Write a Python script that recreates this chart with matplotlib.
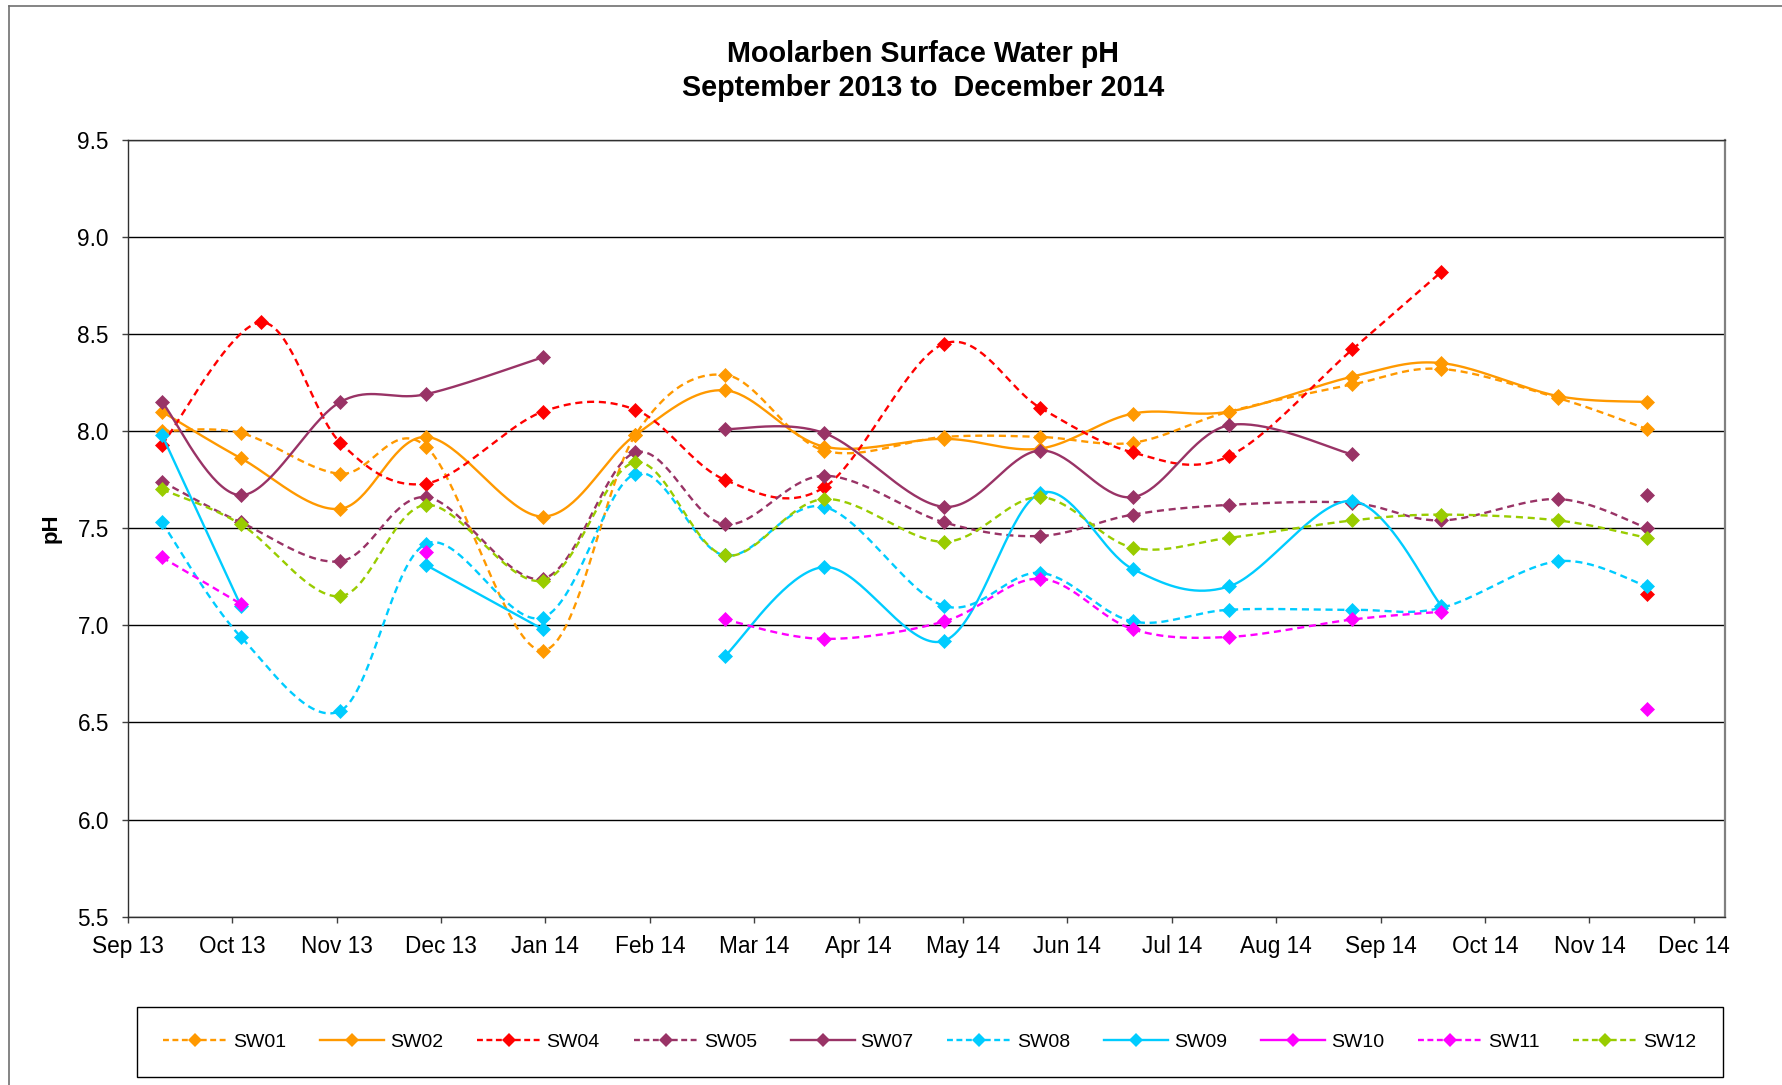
"""
Moolarben surface water pH, Sep 2013 - Dec 2014.
Smoothed lines (Excel style) with diamond markers for each monitoring site.
"""

import numpy as np
import pandas as pd
import matplotlib
matplotlib.use("Agg")
import matplotlib.pyplot as plt
from matplotlib.lines import Line2D

plt.rcParams["font.family"] = ["Liberation Sans", "DejaVu Sans"]


# ─── Data ──────────────────────────────────────────────────────────────────────

sample_dates = ["2013-09-11", "2013-10-04", "2013-11-02", "2013-11-27", "2013-12-31",
                "2014-01-27", "2014-02-22", "2014-03-23", "2014-04-27", "2014-05-25",
                "2014-06-21", "2014-07-19", "2014-08-24", "2014-09-19", "2014-10-23",
                "2014-11-18"]
# SW04 was sampled a few days later in October
sw04_dates = ["2013-09-11", "2013-10-10", "2013-11-02", "2013-11-27", "2013-12-31",
              "2014-01-27", "2014-02-22", "2014-03-23", "2014-04-27", "2014-05-25",
              "2014-06-21", "2014-07-19", "2014-08-24", "2014-09-19", "2014-10-23",
              "2014-11-18"]

sw01 = [8.00, 7.99, 7.78, 7.92, 6.87, 7.98, 8.29, 7.90, 7.97, 7.97, 7.94, 8.10, 8.24, 8.32, 8.17, 8.01]
sw02 = [8.10, 7.86, 7.60, 7.97, 7.56, 7.98, 8.21, 7.92, 7.96, 7.91, 8.09, 8.10, 8.28, 8.35, 8.18, 8.15]
sw04 = [7.93, 8.56, 7.94, 7.73, 8.10, 8.11, 7.75, 7.71, 8.45, 8.12, 7.89, 7.87, 8.42, 8.82, None, 7.16]
sw05 = [7.74, 7.53, 7.33, 7.66, 7.24, 7.89, 7.52, 7.77, 7.53, 7.46, 7.57, 7.62, 7.63, 7.54, 7.65, 7.50]
sw07 = [8.15, 7.67, 8.15, 8.19, 8.38, None, 8.01, 7.99, 7.61, 7.90, 7.66, 8.03, 7.88, None, None, 7.67]
sw08 = [7.53, 6.94, 6.56, 7.42, 7.04, 7.78, 7.36, 7.61, 7.10, 7.27, 7.02, 7.08, 7.08, 7.09, 7.33, 7.20]
sw09 = [7.98, 7.10, None, 7.31, 6.98, None, 6.84, 7.30, 6.92, 7.68, 7.29, 7.20, 7.64, 7.10, None, None]
sw10 = [None, None, None, 7.38, None, None, None, None, None, None, None, None, None, None, None, 6.57]
sw11 = [7.35, 7.11, None, None, None, None, 7.03, 6.93, 7.02, 7.24, 6.98, 6.94, 7.03, 7.07, None, None]
sw12 = [7.70, 7.52, 7.15, 7.62, 7.23, 7.84, 7.36, 7.65, 7.43, 7.66, 7.40, 7.45, 7.54, 7.57, 7.54, 7.45]

month_labels = ["Sep 13", "Oct 13", "Nov 13", "Dec 13", "Jan 14", "Feb 14", "Mar 14", "Apr 14",
                "May 14", "Jun 14", "Jul 14", "Aug 14", "Sep 14", "Oct 14", "Nov 14", "Dec 14"]
y_ticks = [5.5, 6.0, 6.5, 7.0, 7.5, 8.0, 8.5, 9.0, 9.5]

# name, values, dates, colour, linestyle
SERIES = [
    ("SW01", sw01, sample_dates, "#FF9900", "--"),
    ("SW02", sw02, sample_dates, "#FF9900", "-"),
    ("SW04", sw04, sw04_dates,   "#FF0000", "--"),
    ("SW05", sw05, sample_dates, "#993366", "--"),
    ("SW07", sw07, sample_dates, "#993366", "-"),
    ("SW08", sw08, sample_dates, "#00CCFF", "--"),
    ("SW09", sw09, sample_dates, "#00CCFF", "-"),
    ("SW10", sw10, sample_dates, "#FF00FF", "-"),
    ("SW11", sw11, sample_dates, "#FF00FF", "--"),
    ("SW12", sw12, sample_dates, "#99CC00", "--"),
]

START = pd.Timestamp("2013-09-01")
MONTH = 30.44   # days between axis ticks


# ─── Helpers ───────────────────────────────────────────────────────────────────

def to_days(dates):
    return np.array([(pd.Timestamp(d) - START).days for d in dates], dtype=float)


def smooth_run(x, y, n=40):
    """Catmull-Rom style bezier through the points, like Excel's smoothed line."""
    if len(x) < 3:
        return x, y
    pts = np.column_stack([x, y])
    out = [pts[:1]]
    t = np.linspace(0, 1, n)[1:, None]
    for i in range(len(pts) - 1):
        p0 = pts[i - 1] if i > 0 else pts[i]
        p1, p2 = pts[i], pts[i + 1]
        p3 = pts[i + 2] if i + 2 < len(pts) else pts[i + 1]
        c1 = p1 + (p2 - p0) / 6
        c2 = p2 - (p3 - p1) / 6
        seg = ((1 - t) ** 3) * p1 + 3 * ((1 - t) ** 2) * t * c1 + 3 * (1 - t) * t ** 2 * c2 + t ** 3 * p2
        out.append(seg)
    curve = np.vstack(out)
    return curve[:, 0], curve[:, 1]


def split_runs(x, values):
    """Break the series wherever a value is missing."""
    runs, cur = [], []
    for xi, v in zip(x, values):
        if v is None:
            if cur:
                runs.append(cur)
            cur = []
        else:
            cur.append((xi, v))
    if cur:
        runs.append(cur)
    return runs


# ─── Plot ──────────────────────────────────────────────────────────────────────

def plot_chart(output_path):
    fig = plt.figure(figsize=(17.82, 10.85), dpi=100)
    ax = fig.add_axes([127.7 / 1782, 1 - 916.7 / 1085, (1724.6 - 127.7) / 1782, (916.7 - 139.7) / 1085])

    ax.set_ylim(5.5, 9.5)
    ax.set_xlim(0, 15.294 * MONTH)
    ax.set_yticks(y_ticks)
    ax.set_yticklabels([f"{v:.1f}" for v in y_ticks])
    ax.set_xticks([i * MONTH for i in range(len(month_labels))])
    ax.set_xticklabels(month_labels)
    ax.grid(axis="y", color="black", linewidth=1.0)
    ax.set_axisbelow(True)
    ax.tick_params(axis="both", labelsize=16.3, direction="out", length=4.5, width=1.0, color="#404040")
    ax.tick_params(axis="x", pad=9)
    ax.tick_params(axis="y", pad=9)

    for side in ["left", "bottom", "top"]:
        ax.spines[side].set_color("#303030")
        ax.spines[side].set_linewidth(1.0)
    ax.spines["right"].set_color("#808080")
    ax.spines["right"].set_linewidth(1.6)

    handles = []
    for name, vals, dates, color, ls in SERIES:
        x = to_days(dates)
        for run in split_runs(x, vals):
            rx = np.array([p[0] for p in run])
            ry = np.array([p[1] for p in run])
            if len(run) > 1:
                sx, sy = smooth_run(rx, ry)
                ax.plot(sx, sy, color=color, linestyle=ls, linewidth=1.7,
                        dashes=(3, 2) if ls == "--" else (None, None), clip_on=False)
            ax.plot(rx, ry, linestyle="none", marker="D", markersize=7.2,
                    markerfacecolor=color, markeredgecolor=color, markeredgewidth=0.5)
        h = Line2D([], [], color=color, linestyle=ls, linewidth=1.7, marker="D",
                   markersize=7, markeredgewidth=0)
        if ls == "--":
            h.set_dashes((2.5, 1.5))
        handles.append(h)

    leg = fig.legend(handles, [s[0] for s in SERIES], ncol=10, mode="expand",
                     loc="lower left",
                     bbox_to_anchor=(136.6 / 1782, 1 - 1077 / 1085, (1722.7 - 136.6) / 1782, 68 / 1085),
                     borderaxespad=0, fontsize=14, handlelength=3.3, handletextpad=0.3,
                     numpoints=1, borderpad=1.35, fancybox=False, framealpha=1, edgecolor="black")
    leg.get_frame().set_linewidth(1.0)

    # title and axis label
    fig.text(923 / 1782, 1 - 54.5 / 1085, "Moolarben Surface Water pH",
             ha="center", va="center", fontsize=20.7, fontweight="bold")
    fig.text(923 / 1782, 1 - 87.5 / 1085, "September 2013 to  December 2014",
             ha="center", va="center", fontsize=20.7, fontweight="bold")
    fig.text(51 / 1782, 1 - 528 / 1085, "pH", rotation=90,
             ha="center", va="center", fontsize=16, fontweight="bold")

    # chart area border (left and top edges visible)
    fig.add_artist(Line2D([9 / 1782, 9 / 1782], [0, 1 - 6 / 1085], color="#707070", linewidth=1.2))
    fig.add_artist(Line2D([9 / 1782, 1], [1 - 6 / 1085, 1 - 6 / 1085], color="#707070", linewidth=1.2))

    fig.savefig(output_path, dpi=100)
    print(f"  Chart saved as '{output_path}'")


if __name__ == "__main__":
    plot_chart("out.png")
